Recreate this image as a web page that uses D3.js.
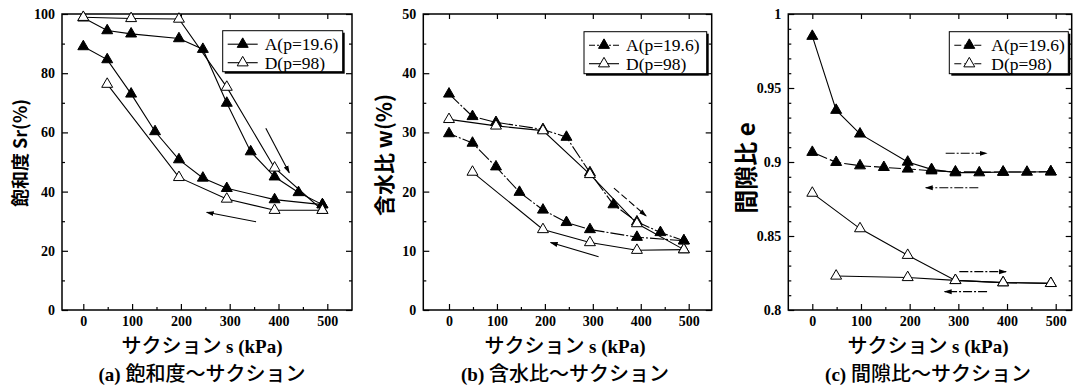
<!DOCTYPE html>
<html>
<head>
<meta charset="utf-8">
<script src="https://cdn.jsdelivr.net/npm/d3@7"></script>
<style>
  body { margin: 0; background: #fff; }
</style>
</head>
<body>
<script>
// suction steps (kPa) for each branch
var sDryA = [0, 49, 98, 196, 245, 294, 343, 392, 441, 490];
var sWetA = [490, 392, 294, 245, 196, 147, 98, 49, 0];
var sDryD = [0, 98, 196, 294, 392, 490];
var sWetD = [490, 392, 294, 196, 49];

// (a) degree of saturation Sr (%)
var srDryA = [98.7, 94.4, 93.3, 91.7, 88.1, 69.9, 53.5, 45.0, 39.7, 35.6];
var srWetA = [35.6, 37.3, 41.1, 44.6, 50.8, 60.3, 73.0, 84.6, 89.0];
var srDryD = [98.9, 98.5, 98.3, 75.3, 48.0, 33.7];
var srWetD = [33.7, 33.7, 37.5, 44.8, 76.3];

// (b) water content w (%)
var wDryA = [36.5, 32.7, 31.7, 30.5, 29.2, 23.2, 17.8, 14.9, 13.1, 11.7];
var wWetA = [11.7, 12.3, 13.6, 14.8, 16.9, 19.9, 24.2, 28.2, 29.8];
var wDryD = [32.2, 31.1, 30.3, 22.9, 14.6, 10.2];
var wWetD = [10.2, 10.1, 11.4, 13.6, 23.3];

// (c) void ratio e
var eDryA = [0.985, 0.935, 0.919, 0.900, 0.895, 0.8928, 0.8928, 0.8932, 0.8932, 0.8934];
var eWetA = [0.8934, 0.8932, 0.8934, 0.8941, 0.8953, 0.8964, 0.8975, 0.8998, 0.9066];
var eDryD = [0.879, 0.855, 0.837, 0.820, 0.8185, 0.818];
var eWetD = [0.818, 0.8185, 0.820, 0.822, 0.823];

// direction arrows [x1, y1, x2, y2] in data units
var srArrows = [[374, 61.4, 422, 46.4], [354, 29.8, 253, 33.0]];
var wArrows = [[344, 20.6, 411, 15.9], [312, 9.0, 212, 11.4]];
var eArrows = [[274, 0.9059, 358, 0.9059], [341, 0.8826, 233, 0.8826],
               [302, 0.8259, 398, 0.8259], [359, 0.8124, 272, 0.8124]];

// tick values
var xMajor = [0, 100, 200, 300, 400, 500];
var xMinor = [50, 150, 250, 350, 450];
var srTicks = [0, 20, 40, 60, 80, 100];
var srMinor = [10, 30, 50, 70, 90];
var wTicks = [0, 10, 20, 30, 40, 50];
var wMinor = [5, 15, 25, 35, 45];
var eTicks = [0.8, 0.85, 0.9, 0.95, 1];
var eMinor = [0.81, 0.82, 0.83, 0.84, 0.86, 0.87, 0.88, 0.89, 0.91, 0.92, 0.93, 0.94, 0.96, 0.97, 0.98, 0.99];

var seriesNames = ["A(p=19.6)", "D(p=98)"];

var serif = "'Liberation Serif', 'Times New Roman', serif";
var cjk = "'Noto Sans CJK JP', 'Noto Sans', sans-serif";

var svgWidth = 1086;
var svgHeight = 389;
var plotTop = 14;
var plotBottom = 310;

var svg = d3.select("body")
  .append("svg")
  .attr("width", svgWidth)
  .attr("height", svgHeight);

svg.append("defs").append("marker")
  .attr("id", "head")
  .attr("markerUnits", "userSpaceOnUse")
  .attr("markerWidth", 8)
  .attr("markerHeight", 6)
  .attr("refX", 7)
  .attr("refY", 3)
  .attr("orient", "auto")
  .append("path")
  .attr("d", "M0,0.5 L8,3 L0,5.5 Z")
  .attr("fill", "black");

var panels = [
  {
    left: 62, right: 352, x0: 83.3, x500: 327.3,
    yDomain: [0, 100], yMajor: srTicks, yMinor: srMinor,
    fmt: d3.format("d"),
    series: [[sDryA, srDryA], [sWetA, srWetA], [sDryD, srDryD], [sWetD, srWetD]],
    dashes: [null, null, null, null], legendDash: [null, null],
    arrows: srArrows, arrowDash: [null, null],
    legend: { x: 222.7, y: 30.7, w: 120, h: 41 },
    yTitle: "飽和度 Sr(%)", yTitleX: 21, yTitleY: 153, yTitleSize: 18,
    cx: 202, letter: "(a)", caption: "飽和度～サクション"
  },
  {
    left: 423.3, right: 711.7, x0: 449, x500: 688.7,
    yDomain: [0, 50], yMajor: wTicks, yMinor: wMinor,
    fmt: d3.format("d"),
    series: [[sDryA, wDryA], [sWetA, wWetA], [sDryD, wDryD], [sWetD, wWetD]],
    dashes: ["14,2,2,2", "14,2,2,2", null, null], legendDash: ["6,2,2,2", null],
    arrows: wArrows, arrowDash: ["7,3", null],
    legend: { x: 584, y: 31.7, w: 122.7, h: 42 },
    yTitle: "含水比 w(%)", yTitleX: 385, yTitleY: 155, yTitleSize: 21,
    cx: 565, letter: "(b)", caption: "含水比～サクション"
  },
  {
    left: 788.3, right: 1071.7, x0: 812.3, x500: 1055.7,
    yDomain: [0.8, 1], yMajor: eTicks, yMinor: eMinor,
    fmt: function(d) { return String(+d.toFixed(2)); },
    series: [[sDryA, eDryA], [sWetA, eWetA], [sDryD, eDryD], [sWetD, eWetD]],
    dashes: [null, "12,3", null, null], legendDash: ["7,3", "7,3"],
    arrows: eArrows, arrowDash: ["9,2,2,2", "9,2,2,2", "9,2,2,2", "9,2,2,2"],
    legend: { x: 949.3, y: 31.7, w: 119, h: 42 },
    yTitle: "間隙比 e", yTitleX: 747, yTitleY: 168, yTitleSize: 24,
    cx: 928, letter: "(c)", caption: "間隙比～サクション"
  }
];

var triangle = d3.symbol(d3.symbolTriangle, 52);

panels.forEach(function(p) {
  var x = d3.scaleLinear().domain([0, 500]).range([p.x0, p.x500]);
  var y = d3.scaleLinear().domain(p.yDomain).range([plotBottom, plotTop]);
  var g = svg.append("g");

  // axes: ticks point inward on all four sides
  var axes = [
    [d3.axisBottom(x).tickValues(xMajor).tickSize(-6).tickPadding(6), "translate(0," + plotBottom + ")"],
    [d3.axisBottom(x).tickValues(xMinor).tickSize(-3).tickFormat(""), "translate(0," + plotBottom + ")"],
    [d3.axisTop(x).tickValues(xMajor).tickSize(-5).tickFormat(""), "translate(0," + plotTop + ")"],
    [d3.axisLeft(y).tickValues(p.yMajor).tickSize(-6).tickPadding(7).tickFormat(p.fmt), "translate(" + p.left + ",0)"],
    [d3.axisLeft(y).tickValues(p.yMinor).tickSize(-3).tickFormat(""), "translate(" + p.left + ",0)"],
    [d3.axisRight(y).tickValues(p.yMajor).tickSize(-6).tickFormat(""), "translate(" + p.right + ",0)"],
    [d3.axisRight(y).tickValues(p.yMinor).tickSize(-3).tickFormat(""), "translate(" + p.right + ",0)"]
  ];
  axes.forEach(function(a) {
    var ag = g.append("g").attr("transform", a[1]).call(a[0]);
    ag.select(".domain").remove();
    ag.selectAll("line").attr("stroke", "black").attr("stroke-width", 1.2);
    ag.selectAll("text")
      .attr("fill", "black")
      .style("font-family", serif)
      .style("font-weight", "bold")
      .style("font-size", "14px");
  });

  g.append("rect")
    .attr("x", p.left)
    .attr("y", plotTop)
    .attr("width", p.right - p.left)
    .attr("height", plotBottom - plotTop)
    .attr("fill", "none")
    .attr("stroke", "black")
    .attr("stroke-width", 1.5);

  var line = d3.line()
    .x(function(d) { return x(d[0]); })
    .y(function(d) { return y(d[1]); });

  // A branches first so the open D markers sit on top
  p.series.forEach(function(s, i) {
    var isA = i < 2;
    var pts = d3.zip(s[0], s[1]);
    g.append("path")
      .datum(pts)
      .attr("d", line)
      .attr("fill", "none")
      .attr("stroke", "black")
      .attr("stroke-width", 1.1)
      .attr("stroke-dasharray", p.dashes[i]);
    g.selectAll(null)
      .data(pts)
      .enter()
      .append("path")
      .attr("transform", function(d) { return "translate(" + x(d[0]) + "," + y(d[1]) + ")"; })
      .attr("d", triangle)
      .attr("fill", isA ? "black" : "white")
      .attr("stroke", "black")
      .attr("stroke-width", 1);
  });

  // direction arrows
  g.selectAll(null)
    .data(p.arrows)
    .enter()
    .append("line")
    .attr("x1", function(d) { return x(d[0]); })
    .attr("y1", function(d) { return y(d[1]); })
    .attr("x2", function(d) { return x(d[2]); })
    .attr("y2", function(d) { return y(d[3]); })
    .attr("stroke", "black")
    .attr("stroke-width", 1.1)
    .attr("stroke-dasharray", function(d, i) { return p.arrowDash[i]; })
    .attr("marker-end", "url(#head)");

  // legend box with drop shadow
  var lg = p.legend;
  g.append("rect")
    .attr("x", lg.x + 2).attr("y", lg.y + 2)
    .attr("width", lg.w).attr("height", lg.h)
    .attr("fill", "black");
  g.append("rect")
    .attr("x", lg.x).attr("y", lg.y)
    .attr("width", lg.w).attr("height", lg.h)
    .attr("fill", "white")
    .attr("stroke", "black")
    .attr("stroke-width", 1);
  seriesNames.forEach(function(name, i) {
    var ry = lg.y + 13.5 + i * 18.5;
    g.append("line")
      .attr("x1", lg.x + 5).attr("x2", lg.x + 35)
      .attr("y1", ry).attr("y2", ry)
      .attr("stroke", "black")
      .attr("stroke-width", 1.1)
      .attr("stroke-dasharray", p.legendDash[i]);
    g.append("path")
      .attr("transform", "translate(" + (lg.x + 20) + "," + ry + ")")
      .attr("d", triangle)
      .attr("fill", i === 0 ? "black" : "white")
      .attr("stroke", "black");
    g.append("text")
      .attr("x", lg.x + 42)
      .attr("y", ry + 6)
      .style("font-family", serif)
      .style("font-size", "17.5px")
      .text(name);
  });

  // y axis title
  g.append("text")
    .attr("transform", "translate(" + p.yTitleX + "," + p.yTitleY + ") rotate(-90)")
    .attr("text-anchor", "middle")
    .attr("dy", "0.35em")
    .style("font-family", cjk)
    .style("font-weight", "bold")
    .style("font-size", p.yTitleSize + "px")
    .text(p.yTitle);

  // x axis title
  var xt = g.append("text")
    .attr("x", p.cx)
    .attr("y", 353)
    .attr("text-anchor", "middle");
  xt.append("tspan")
    .style("font-family", cjk)
    .style("font-weight", 500)
    .style("font-size", "20px")
    .text("サクション ");
  xt.append("tspan")
    .style("font-family", serif)
    .style("font-weight", "bold")
    .style("font-size", "19px")
    .text("s (kPa)");

  // caption
  var ct = g.append("text")
    .attr("x", p.cx)
    .attr("y", 381)
    .attr("text-anchor", "middle");
  ct.append("tspan")
    .style("font-family", serif)
    .style("font-weight", "bold")
    .style("font-size", "19px")
    .text(p.letter + " ");
  ct.append("tspan")
    .style("font-family", cjk)
    .style("font-weight", 500)
    .style("font-size", "20px")
    .text(p.caption);
});
</script>
</body>
</html>
